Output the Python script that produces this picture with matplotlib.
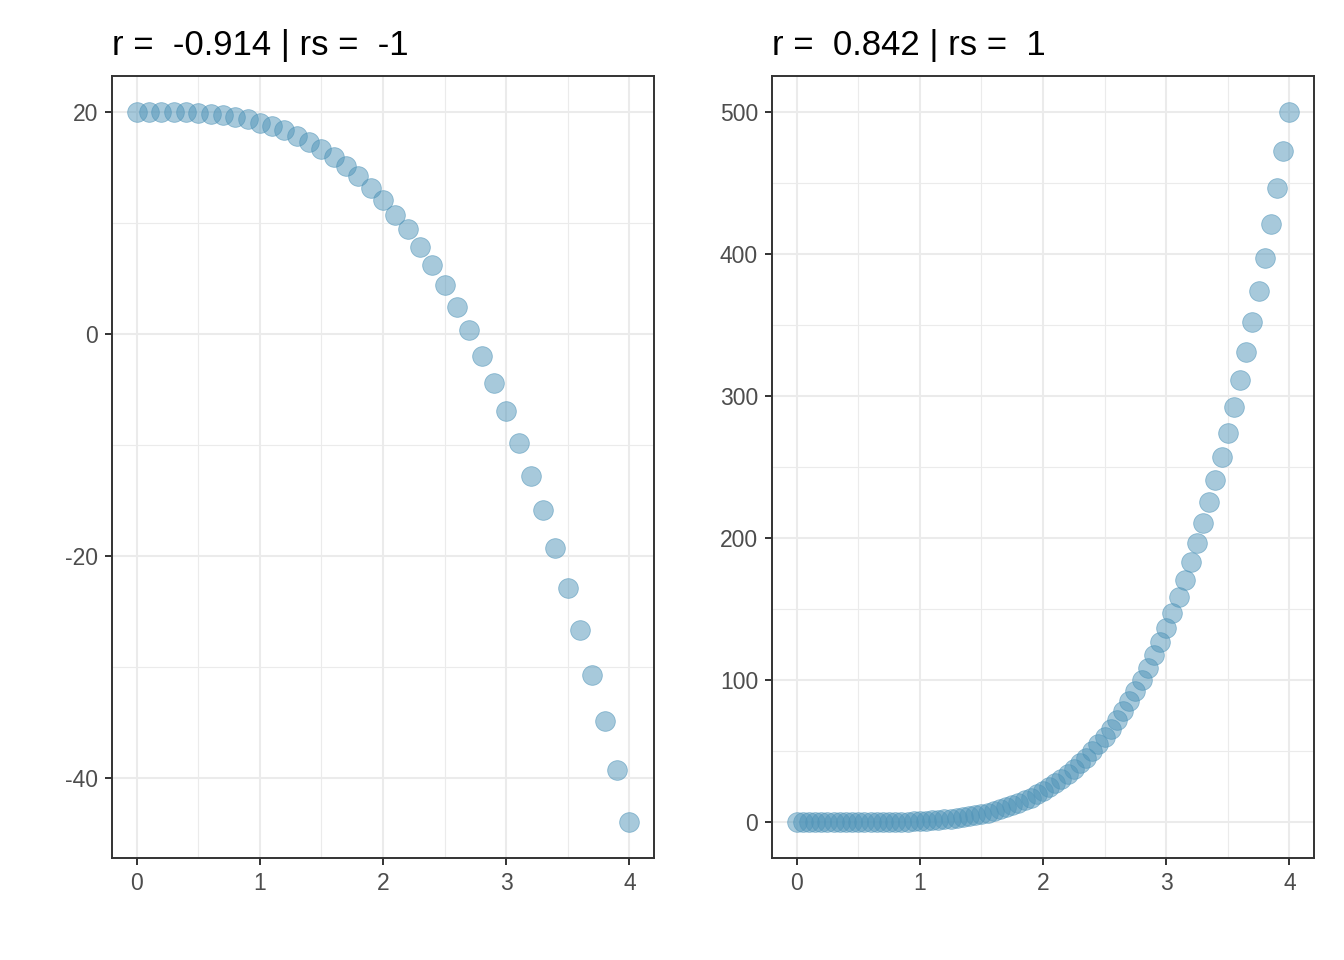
import matplotlib.pyplot as plt
from matplotlib.ticker import MultipleLocator

# Left panel: x in steps of 0.1
x_left = [0.0, 0.1, 0.2, 0.3, 0.4, 0.5, 0.6, 0.7, 0.8, 0.9,
          1.0, 1.1, 1.2, 1.3, 1.4, 1.5, 1.6, 1.7, 1.8, 1.9,
          2.0, 2.1, 2.2, 2.3, 2.4, 2.5, 2.6, 2.7, 2.8, 2.9,
          3.0, 3.1, 3.2, 3.3, 3.4, 3.5, 3.6, 3.7, 3.8, 3.9, 4.0]
y_left = [20.0, 20.0, 19.99, 19.97, 19.94, 19.9, 19.8, 19.7, 19.5, 19.3,
          19.0, 18.7, 18.3, 17.8, 17.3, 16.6, 15.9, 15.1, 14.2, 13.1,
          12.0, 10.7, 9.4, 7.8, 6.2, 4.4, 2.4, 0.3, -2.0, -4.4,
          -7.0, -9.8, -12.8, -15.9, -19.3, -22.9, -26.7, -30.7, -34.9, -39.3, -44.0]

# Right panel: x in steps of 0.05
x_right = [0.0, 0.05, 0.1, 0.15, 0.2, 0.25, 0.3, 0.35, 0.4, 0.45,
           0.5, 0.55, 0.6, 0.65, 0.7, 0.75, 0.8, 0.85, 0.9, 0.95,
           1.0, 1.05, 1.1, 1.15, 1.2, 1.25, 1.3, 1.35, 1.4, 1.45,
           1.5, 1.55, 1.6, 1.65, 1.7, 1.75, 1.8, 1.85, 1.9, 1.95,
           2.0, 2.05, 2.1, 2.15, 2.2, 2.25, 2.3, 2.35, 2.4, 2.45,
           2.5, 2.55, 2.6, 2.65, 2.7, 2.75, 2.8, 2.85, 2.9, 2.95,
           3.0, 3.05, 3.1, 3.15, 3.2, 3.25, 3.3, 3.35, 3.4, 3.45,
           3.5, 3.55, 3.6, 3.65, 3.7, 3.75, 3.8, 3.85, 3.9, 3.95, 4.0]
y_right = [0.0, 0.0, 0.0, 0.0, 0.0, 0.0, 0.0, 0.0, 0.01, 0.02,
           0.04, 0.07, 0.1, 0.14, 0.2, 0.27, 0.36, 0.47, 0.61, 0.77,
           0.98, 1.2, 1.5, 1.8, 2.2, 2.7, 3.2, 3.8, 4.4, 5.2,
           6.1, 7.0, 8.1, 9.3, 10.6, 12.1, 13.8, 15.6, 17.5, 19.7,
           22.1, 24.7, 27.5, 30.6, 33.9, 37.6, 41.5, 45.7, 50.2, 55.1,
           60.3, 66.0, 72.0, 78.4, 85.3, 92.7, 100.5, 108.8, 117.7, 127.1,
           137.1, 147.7, 158.9, 170.7, 183.3, 196.5, 210.5, 225.2, 240.7, 257.1,
           274.3, 292.4, 311.4, 331.3, 352.2, 374.1, 397.1, 421.2, 446.4, 472.7, 500.2]

titles = ["r =  -0.914 | rs =  -1", "r =  0.842 | rs =  1"]

plt.rcParams['font.family'] = ['Liberation Sans', 'DejaVu Sans']
plt.rcParams['axes.unicode_minus'] = False

W, H = 1344, 960
fig = plt.figure(figsize=(W / 100, H / 100), dpi=100)

point_col = (0.318, 0.584, 0.725)

panels = [
    (112, x_left, y_left, 20, 10, titles[0]),
    (772, x_right, y_right, 100, 50, titles[1]),
]

for left_px, xs, ys, major, minor, title in panels:
    ax = fig.add_axes([left_px / W, (H - 858) / H, 542 / W, 782 / H])
    ax.scatter(xs, ys, s=200, facecolor=point_col + (0.5,),
               edgecolor=point_col + (0.6,), linewidth=0.6, zorder=3)

    xr = max(xs) - min(xs)
    ax.set_xlim(min(xs) - 0.05 * xr, max(xs) + 0.05 * xr)
    yr = max(ys) - min(ys)
    ax.set_ylim(min(ys) - 0.05 * yr, max(ys) + 0.05 * yr)

    ax.xaxis.set_major_locator(MultipleLocator(1))
    ax.xaxis.set_minor_locator(MultipleLocator(0.5))
    ax.yaxis.set_major_locator(MultipleLocator(major))
    ax.yaxis.set_minor_locator(MultipleLocator(minor))

    ax.grid(which='major', color='#EBEBEB', linewidth=1.5, zorder=0)
    ax.grid(which='minor', color='#EBEBEB', linewidth=0.8, zorder=0)
    ax.set_axisbelow(True)

    for sp in ax.spines.values():
        sp.set_color('#333333')
        sp.set_linewidth(1.4)

    ax.tick_params(which='major', length=5, width=1.4, color='#333333',
                   labelsize=16.5, labelcolor='#4D4D4D', pad=5)
    ax.tick_params(which='minor', length=0)

    fig.text(left_px / W, 1 - 55 / H, title, fontsize=25, color='black',
             ha='left', va='baseline')

fig.savefig("out.png", dpi=100)
